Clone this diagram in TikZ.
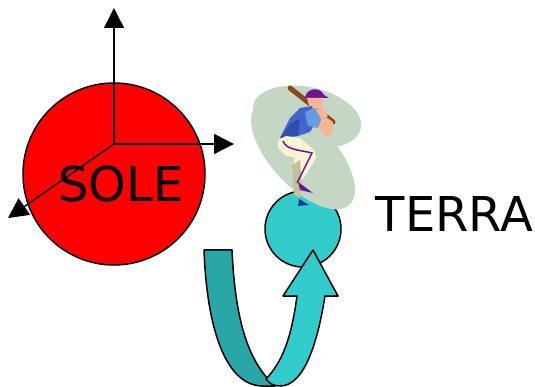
\documentclass[tikz,border=0pt]{standalone}
\usepackage{fontspec}
\setmainfont{DejaVu Sans}
\usetikzlibrary{arrows.meta}
\definecolor{sunred}{RGB}{255,0,0}
\definecolor{earthteal}{RGB}{51,204,204}
\definecolor{darkteal}{RGB}{41,166,166}
\definecolor{blobgreen}{RGB}{196,214,196}
\definecolor{batbrown}{RGB}{139,72,25}
\definecolor{capviolet}{RGB}{112,20,150}
\definecolor{skin}{RGB}{249,180,150}
\definecolor{shirtblue}{RGB}{68,102,204}
\definecolor{shirtdark}{RGB}{48,78,176}
\definecolor{sleeveblue}{RGB}{106,154,224}
\definecolor{pantcream}{RGB}{248,245,210}
\definecolor{shinkhaki}{RGB}{196,192,150}
\definecolor{shoeblue}{RGB}{26,50,160}
\tikzset{
  body/.style={circle, draw=black, line width=1.5pt, inner sep=0pt},
  axis/.style={line width=1.4pt, -{Triangle[length=20pt,width=20pt]}},
  label/.style={inner sep=0pt, font=\fontsize{48}{48}\selectfont},
  ribbon/.style={draw=black, line width=1.5pt, line join=round},
}
\begin{document}
\begin{tikzpicture}[x=1pt,y=-1pt]
\useasboundingbox (0,0) rectangle (535,387);

% the sun with its three axes
\node[body, fill=sunred, minimum size=182pt] (sole) at (114,174) {};
\coordinate (o) at (114,144);
\coordinate (zt) at (114,8);
\coordinate (xt) at (234,144);
\coordinate (yt) at (8,218);
\draw[axis] (o) -- (zt);
\draw[axis] (o) -- (xt);
\draw[axis] (o) -- (yt);
\node[label] (soletext) at (121,184.5) {SOLE};

% the earth
\node[body, fill=earthteal, minimum size=76pt] (terra) at (303,229) {};
\node[label] (terratext) at (454.5,214.5) {TERRA};

% the turning arrow below the earth
\fill[darkteal] (204,250) -- (232,250) .. controls (235,315) and (246,360) .. (275,386)
  -- (262,386) .. controls (226,385) and (207,330) .. (204,250) -- cycle;
\draw[ribbon] (204,250) -- (232,250) .. controls (235,315) and (246,360) .. (275,386)
  -- (262,386) .. controls (226,385) and (207,330) .. (204,250) -- cycle;
\draw[ribbon, fill=earthteal] (297,296) .. controls (291,340) and (282,362) .. (266,379)
  .. controls (270,384) and (274,386) .. (280,386)
  .. controls (305,386) and (318,340) .. (325,296)
  -- (338,296) -- (313,250) -- (283,296) -- cycle;

% the batter standing on the earth
\fill[blobgreen, rotate around={-47:(303,155)}] (303,155) ellipse [x radius=68, y radius=32];
\fill[blobgreen, rotate around={-12:(307,117)}] (307,117) ellipse [x radius=55, y radius=30];
\draw[batbrown, line width=5pt, line cap=round] (290,88) -- (333,122);
\fill[capviolet] (305,98) .. controls (306,88) and (320,86) .. (324,95) -- (329,98) -- cycle;
\fill[skin] (307,98) -- (323,98) -- (321,108) -- (310,110) -- cycle;
\fill[shirtblue] (280,138) -- (290,118) -- (300,108) -- (312,106) -- (316,122) -- (310,132) -- (298,136) -- cycle;
\fill[shirtdark] (280,138) -- (290,124) -- (300,118) -- (298,136) -- cycle;
\fill[sleeveblue] (305,112) -- (315,108) -- (322,118) -- (318,128) -- (308,126) -- cycle;
\fill[skin] (318,127) -- (326,117) -- (333,122) -- (332,135) -- (325,137) -- cycle;
\fill[skin] (316,110) -- (322,106) -- (328,116) -- (322,120) -- cycle;
\fill[pantcream] (278,140) -- (286,136) -- (300,138) -- (314,150) -- (316,158) -- (306,175)
  -- (298,185) -- (292,170) -- (295,158) -- (285,155) -- (278,148) -- cycle;
\fill[shinkhaki] (292,165) -- (300,160) -- (302,185) -- (300,198) -- (294,195) -- cycle;
\draw[capviolet, line width=1.5pt] (283,141) .. controls (286,150) and (300,150) .. (312,153) -- (297,183);
\fill[capviolet] (298,182) -- (313,193) -- (300,190) -- cycle;
\fill[shoeblue] (299,199) -- (309,205) -- (298,206) -- cycle;
\end{tikzpicture}
\end{document}
